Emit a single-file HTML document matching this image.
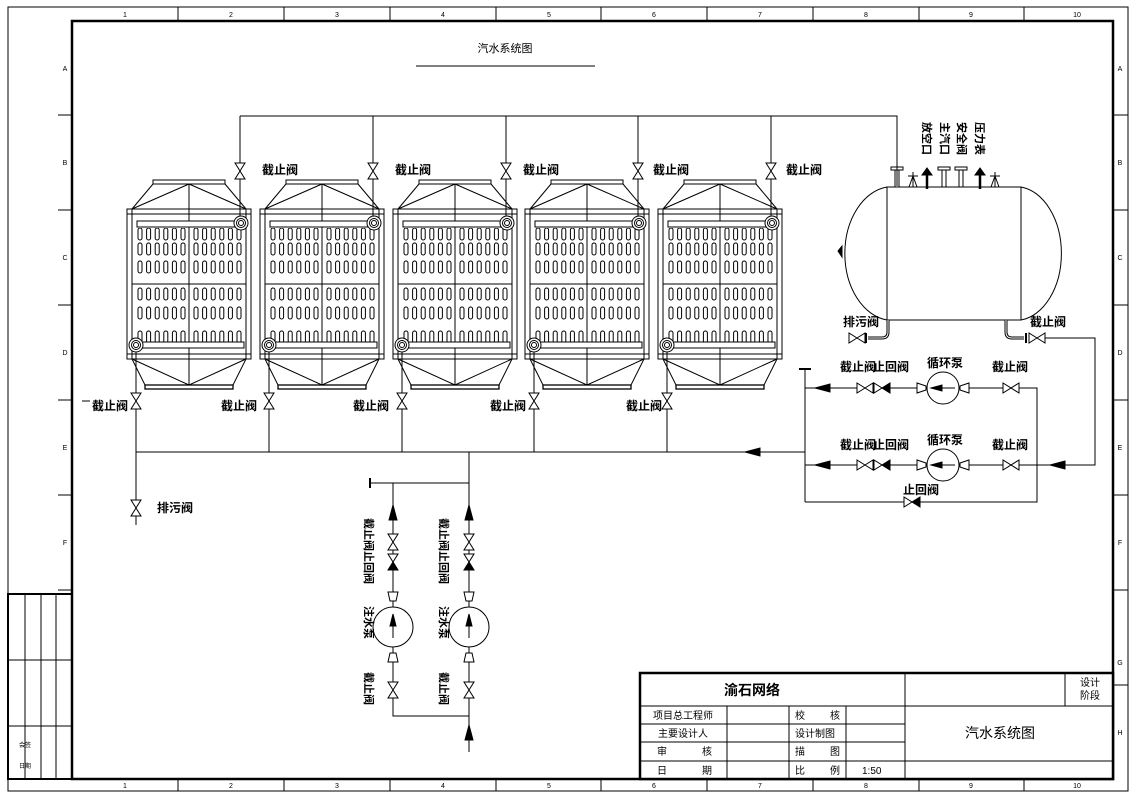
<!DOCTYPE html>
<html><head><meta charset="utf-8"><style>
html,body{margin:0;padding:0;background:#fff}
svg{display:block}
text{font-family:"Liberation Sans","Noto Sans CJK SC","WenQuanYi Zen Hei",sans-serif;fill:#000}
.l{font-size:12px;font-weight:bold}
</style></head><body>
<svg width="1137" height="801" viewBox="0 0 1137 801" xmlns="http://www.w3.org/2000/svg" stroke="#000" fill="none" stroke-width="1">
<defs>
<path id="vv" d="M-5,-8 L5,-8 L-5,8 L5,8 Z" fill="#fff"/>
<path id="hv" d="M-8,-5 L-8,5 L8,-5 L8,5 Z" fill="#fff"/>
<g id="hck"><path d="M-8,-5 L-8,5 L0,0 Z" fill="#fff"/><path d="M8,-5 L8,5 L0,0 Z" fill="#000"/></g>
<g id="vck"><path d="M-5,-8 L5,-8 L0,0 Z" fill="#fff"/><path d="M-5,8 L5,8 L0,0 Z" fill="#000"/></g>
<g id="orow">
<rect x="138" y="-6" width="4" height="12" rx="2"/><rect x="146.6" y="-6" width="4" height="12" rx="2"/><rect x="155.2" y="-6" width="4" height="12" rx="2"/><rect x="163.8" y="-6" width="4" height="12" rx="2"/><rect x="172.4" y="-6" width="4" height="12" rx="2"/><rect x="181" y="-6" width="4" height="12" rx="2"/>
<rect x="194" y="-6" width="4" height="12" rx="2"/><rect x="202.6" y="-6" width="4" height="12" rx="2"/><rect x="211.2" y="-6" width="4" height="12" rx="2"/><rect x="219.8" y="-6" width="4" height="12" rx="2"/><rect x="228.4" y="-6" width="4" height="12" rx="2"/><rect x="237" y="-6" width="4" height="12" rx="2"/>
</g>
<clipPath id="tc"><rect x="133" y="228" width="112" height="114"/></clipPath>
<g id="tank">
<rect x="127" y="209" width="124" height="150"/>
<line x1="132" y1="209" x2="132" y2="359"/><line x1="246" y1="209" x2="246" y2="359"/>
<line x1="127" y1="214" x2="251" y2="214"/><line x1="127" y1="354" x2="251" y2="354"/>
<line x1="132" y1="209" x2="153" y2="184"/><line x1="246" y1="209" x2="225" y2="184"/>
<line x1="132" y1="209" x2="189" y2="184"/><line x1="246" y1="209" x2="189" y2="184"/>
<rect x="153" y="180" width="72" height="4"/>
<line x1="132" y1="359" x2="145" y2="385"/><line x1="246" y1="359" x2="233" y2="385"/>
<line x1="132" y1="359" x2="189" y2="385"/><line x1="246" y1="359" x2="189" y2="385"/>
<rect x="145" y="385" width="88" height="4" stroke-width="1.3"/>
<line x1="189" y1="184" x2="189" y2="385"/>
<line x1="132" y1="284" x2="246" y2="284"/>
<g clip-path="url(#tc)">
<use href="#orow" y="234"/><use href="#orow" y="249"/><use href="#orow" y="267"/><use href="#orow" y="294"/><use href="#orow" y="313"/><use href="#orow" y="337"/>
</g>
<rect x="137" y="221" width="108" height="6" fill="#fff"/>
<rect x="134" y="342" width="110" height="6" fill="#fff"/>
<circle cx="241" cy="223" r="7" fill="#fff"/><circle cx="241" cy="223" r="4.5"/><circle cx="241" cy="223" r="2.5"/>
<circle cx="136" cy="345" r="7" fill="#fff"/><circle cx="136" cy="345" r="4.5"/><circle cx="136" cy="345" r="2.5"/>
<line x1="240" y1="116" x2="240" y2="216"/>
<use href="#vv" x="240" y="171"/>
<line x1="136" y1="352" x2="136" y2="452"/>
<use href="#vv" x="136" y="401"/>
</g>
</defs>

<!-- borders -->
<rect x="8" y="7" width="1120" height="784"/>
<rect x="72" y="21" width="1041" height="758" stroke-width="2.5"/>
<g stroke-width="1">
<line x1="178" y1="7" x2="178" y2="21"/><line x1="284" y1="7" x2="284" y2="21"/><line x1="390" y1="7" x2="390" y2="21"/><line x1="496" y1="7" x2="496" y2="21"/><line x1="601" y1="7" x2="601" y2="21"/><line x1="707" y1="7" x2="707" y2="21"/><line x1="813" y1="7" x2="813" y2="21"/><line x1="919" y1="7" x2="919" y2="21"/><line x1="1024" y1="7" x2="1024" y2="21"/>
<line x1="178" y1="779" x2="178" y2="791"/><line x1="284" y1="779" x2="284" y2="791"/><line x1="390" y1="779" x2="390" y2="791"/><line x1="496" y1="779" x2="496" y2="791"/><line x1="601" y1="779" x2="601" y2="791"/><line x1="707" y1="779" x2="707" y2="791"/><line x1="813" y1="779" x2="813" y2="791"/><line x1="919" y1="779" x2="919" y2="791"/><line x1="1024" y1="779" x2="1024" y2="791"/>
<line x1="58" y1="115" x2="72" y2="115"/><line x1="58" y1="210" x2="72" y2="210"/><line x1="58" y1="305" x2="72" y2="305"/><line x1="58" y1="400" x2="72" y2="400"/><line x1="58" y1="495" x2="72" y2="495"/><line x1="58" y1="590" x2="72" y2="590"/>
<line x1="1113" y1="115" x2="1128" y2="115"/><line x1="1113" y1="210" x2="1128" y2="210"/><line x1="1113" y1="305" x2="1128" y2="305"/><line x1="1113" y1="400" x2="1128" y2="400"/><line x1="1113" y1="495" x2="1128" y2="495"/><line x1="1113" y1="590" x2="1128" y2="590"/><line x1="1113" y1="685" x2="1128" y2="685"/>
</g>
<g stroke="none" font-size="7">
<text x="125" y="17" text-anchor="middle">1</text><text x="231" y="17" text-anchor="middle">2</text><text x="337" y="17" text-anchor="middle">3</text><text x="443" y="17" text-anchor="middle">4</text><text x="549" y="17" text-anchor="middle">5</text><text x="654" y="17" text-anchor="middle">6</text><text x="760" y="17" text-anchor="middle">7</text><text x="866" y="17" text-anchor="middle">8</text><text x="971" y="17" text-anchor="middle">9</text><text x="1077" y="17" text-anchor="middle">10</text>
<text x="125" y="788" text-anchor="middle">1</text><text x="231" y="788" text-anchor="middle">2</text><text x="337" y="788" text-anchor="middle">3</text><text x="443" y="788" text-anchor="middle">4</text><text x="549" y="788" text-anchor="middle">5</text><text x="654" y="788" text-anchor="middle">6</text><text x="760" y="788" text-anchor="middle">7</text><text x="866" y="788" text-anchor="middle">8</text><text x="971" y="788" text-anchor="middle">9</text><text x="1077" y="788" text-anchor="middle">10</text>
<text x="65" y="71" text-anchor="middle">A</text><text x="65" y="165" text-anchor="middle">B</text><text x="65" y="260" text-anchor="middle">C</text><text x="65" y="355" text-anchor="middle">D</text><text x="65" y="450" text-anchor="middle">E</text><text x="65" y="545" text-anchor="middle">F</text>
<text x="1120" y="71" text-anchor="middle">A</text><text x="1120" y="165" text-anchor="middle">B</text><text x="1120" y="260" text-anchor="middle">C</text><text x="1120" y="355" text-anchor="middle">D</text><text x="1120" y="450" text-anchor="middle">E</text><text x="1120" y="545" text-anchor="middle">F</text><text x="1120" y="665" text-anchor="middle">G</text><text x="1120" y="735" text-anchor="middle">H</text>
<text x="19" y="747" font-size="6">会签</text><text x="19" y="768" font-size="6">日期</text>
</g>
<!-- left strip -->
<rect x="8" y="594" width="64" height="185" stroke-width="2"/>
<line x1="25" y1="594" x2="25" y2="779"/><line x1="41" y1="594" x2="41" y2="779"/><line x1="56" y1="594" x2="56" y2="779"/>
<line x1="8" y1="660" x2="72" y2="660"/><line x1="8" y1="726" x2="72" y2="726"/>

<!-- title -->
<text x="505" y="52" font-size="11" text-anchor="middle" stroke="none">汽水系统图</text>
<line x1="416" y1="66" x2="595" y2="66"/>

<!-- top header -->
<polyline points="240,116 897,116 897,186"/>
<line x1="240" y1="116" x2="240" y2="160"/>

<use href="#tank"/>
<use href="#tank" x="133"/>
<use href="#tank" x="266"/>
<use href="#tank" x="398"/>
<use href="#tank" x="531"/>

<g stroke="none" class="l">
<text x="262" y="174" class="l">截止阀</text><text x="395" y="174" class="l">截止阀</text><text x="523" y="174" class="l">截止阀</text><text x="653" y="174" class="l">截止阀</text><text x="786" y="174" class="l">截止阀</text>
<text x="92" y="410" class="l">截止阀</text><text x="221" y="410" class="l">截止阀</text><text x="353" y="410" class="l">截止阀</text><text x="490" y="410" class="l">截止阀</text><text x="626" y="410" class="l">截止阀</text>
<text x="157" y="512" class="l">排污阀</text>
</g>
<line x1="82" y1="401" x2="90" y2="401"/>

<!-- bottom header -->
<line x1="136" y1="452" x2="805" y2="452"/>
<path d="M745,452 L760,448 L760,456 Z" fill="#000"/>
<line x1="136" y1="452" x2="136" y2="525"/>
<use href="#vv" x="136" y="508"/>
<line x1="469" y1="452" x2="469" y2="752"/>

<!-- hot water tank -->
<path d="M887,187 A48,67 0 0 0 887,320" />
<path d="M1021,187 A46,67 0 0 1 1021,320" />
<rect x="887" y="187" width="134" height="133" fill="#fff"/>
<path d="M842,246 L838,251 L842,257 Z" fill="#000"/>
<g stroke-width="1">
<line x1="895" y1="170" x2="895" y2="187"/><line x1="899" y1="170" x2="899" y2="187"/><rect x="891" y="167" width="12" height="3"/>
<line x1="913" y1="172" x2="913" y2="187"/><line x1="908" y1="176" x2="918" y2="176"/><line x1="913" y1="176" x2="909" y2="187"/><line x1="913" y1="176" x2="917" y2="187"/>
<line x1="927" y1="170" x2="927" y2="189" stroke-width="2.5"/><path d="M922,175 L932,175 L927,168 Z" fill="#000"/>
<line x1="942" y1="170" x2="942" y2="187"/><line x1="946" y1="170" x2="946" y2="187"/><rect x="938" y="167" width="12" height="3"/>
<line x1="959" y1="170" x2="959" y2="187"/><line x1="963" y1="170" x2="963" y2="187"/><rect x="955" y="167" width="12" height="3"/>
<line x1="980" y1="170" x2="980" y2="189" stroke-width="2.5"/><path d="M975,175 L985,175 L980,168 Z" fill="#000"/>
<line x1="995" y1="172" x2="995" y2="187"/><line x1="990" y1="176" x2="1000" y2="176"/><line x1="995" y1="176" x2="991" y2="187"/><line x1="995" y1="176" x2="999" y2="187"/>
</g>
<g stroke="none" font-size="11" font-weight="bold">
<text transform="translate(976,122) rotate(90)">压力表</text>
<text transform="translate(958,122) rotate(90)">安全阀</text>
<text transform="translate(941,122) rotate(90)">主汽口</text>
<text transform="translate(923,122) rotate(90)">放空口</text>
</g>
<!-- tank bottom outlets -->
<path d="M888,320 L888,332 Q888,338 882,338 L868,338" stroke-width="3"/>
<path d="M888,320 L888,332 Q888,338 882,338 L868,338" stroke="#fff" stroke-width="1"/>
<line x1="866" y1="333" x2="866" y2="343" stroke-width="2"/>
<use href="#hv" x="857" y="338"/>
<text x="843" y="326" class="l" stroke="none">排污阀</text>
<path d="M1006,320 L1006,332 Q1006,338 1012,338 L1024,338" stroke-width="3"/>
<path d="M1006,320 L1006,332 Q1006,338 1012,338 L1024,338" stroke="#fff" stroke-width="1"/>
<line x1="1026" y1="333" x2="1026" y2="343" stroke-width="2"/>
<use href="#hv" x="1037" y="338"/>
<text x="1030" y="326" class="l" stroke="none">截止阀</text>
<polyline points="1045,338 1095,338 1095,465 805,465"/>

<!-- pump loop -->
<line x1="805" y1="370" x2="805" y2="502"/>
<line x1="799" y1="369" x2="811" y2="369" stroke-width="2"/>
<polyline points="805,388 1037,388 1037,502 805,502"/>
<path d="M815,388 L830,384 L830,392 Z" fill="#000"/>
<path d="M815,465 L830,461 L830,469 Z" fill="#000"/>
<path d="M1050,465 L1065,461 L1065,469 Z" fill="#000"/>
<use href="#hv" x="865" y="388"/><use href="#hck" x="882" y="388"/>
<use href="#hv" x="865" y="465"/><use href="#hck" x="882" y="465"/>
<use href="#hv" x="1011" y="388"/><use href="#hv" x="1011" y="465"/>
<g id="pmp">
<circle cx="943" cy="388" r="16" fill="#fff"/>
<line x1="935" y1="388" x2="955" y2="388"/><path d="M931,388 L942,385 L942,391 Z" fill="#000"/>
<path d="M917,383 L917,393 L926,390 L926,386 Z" fill="#fff"/>
<path d="M969,383 L969,393 L960,390 L960,386 Z" fill="#fff"/>
</g>
<use href="#pmp" y="77"/>
<path d="M920,502 L920,497 L912,502 L920,507 Z" fill="#000"/>
<path d="M904,497 L904,507 L912,502 Z" fill="#fff"/>
<g stroke="none" class="l">
<text x="840" y="371">截止阀</text><text x="873" y="371">止回阀</text><text x="927" y="367">循环泵</text><text x="992" y="371">截止阀</text>
<text x="840" y="449">截止阀</text><text x="873" y="449">止回阀</text><text x="927" y="444">循环泵</text><text x="992" y="449">截止阀</text>
<text x="903" y="494">止回阀</text>
</g>

<!-- injection pumps -->
<line x1="370" y1="483" x2="469" y2="483"/>
<line x1="370" y1="478" x2="370" y2="488" stroke-width="2"/>
<polyline points="393,483 393,716 469,716"/>
<g id="inj">
<path d="M393,505 L389,520 L397,520 Z" fill="#000"/>
<use href="#vv" x="393" y="542"/>
<use href="#vck" x="393" y="562"/>
<path d="M388,592 L398,592 L396,601 L390,601 Z" fill="#fff"/>
<circle cx="393" cy="627" r="20" fill="#fff"/>
<line x1="393" y1="618" x2="393" y2="638"/><path d="M393,614 L390,626 L396,626 Z" fill="#000"/>
<path d="M388,662 L398,662 L396,653 L390,653 Z" fill="#fff"/>
<use href="#vv" x="393" y="690"/>
</g>
<use href="#inj" x="76"/>
<path d="M469,725 L465,740 L473,740 Z" fill="#000"/>
<g stroke="none" font-size="11" font-weight="bold">
<text transform="translate(365,518) rotate(90)">截止阀止回阀</text>
<text transform="translate(440,518) rotate(90)">截止阀止回阀</text>
<text transform="translate(365,606) rotate(90)">注水泵</text>
<text transform="translate(440,606) rotate(90)">注水泵</text>
<text transform="translate(365,672) rotate(90)">截止阀</text>
<text transform="translate(440,672) rotate(90)">截止阀</text>
</g>

<!-- title block -->
<rect x="640" y="673" width="473" height="106" fill="#fff" stroke-width="2.5"/>
<line x1="640" y1="706" x2="1113" y2="706"/>
<line x1="640" y1="724" x2="905" y2="724"/><line x1="640" y1="742" x2="905" y2="742"/><line x1="640" y1="761" x2="1113" y2="761"/>
<line x1="727" y1="706" x2="727" y2="779"/><line x1="789" y1="706" x2="789" y2="779"/><line x1="846" y1="706" x2="846" y2="779"/>
<line x1="905" y1="673" x2="905" y2="779"/><line x1="1065" y1="673" x2="1065" y2="706"/>
<g stroke="none" font-size="10">
<text x="752" y="695" font-size="14" font-weight="bold" text-anchor="middle">渝石网络</text>
<text x="1090" y="686" text-anchor="middle">设计</text><text x="1090" y="699" text-anchor="middle">阶段</text>
<text x="1000" y="738" font-size="14" text-anchor="middle">汽水系统图</text>
<text x="683" y="719" text-anchor="middle">项目总工程师</text>
<text x="683" y="737" text-anchor="middle">主要设计人</text>
<text x="657" y="755">审</text><text x="702" y="755">核</text>
<text x="657" y="774">日</text><text x="702" y="774">期</text>
<text x="795" y="719">校</text><text x="830" y="719">核</text>
<text x="795" y="737">设计制图</text>
<text x="795" y="755">描</text><text x="830" y="755">图</text>
<text x="795" y="774">比</text><text x="830" y="774">例</text>
<text x="862" y="774">1:50</text>
</g>
</svg>
</body></html>
